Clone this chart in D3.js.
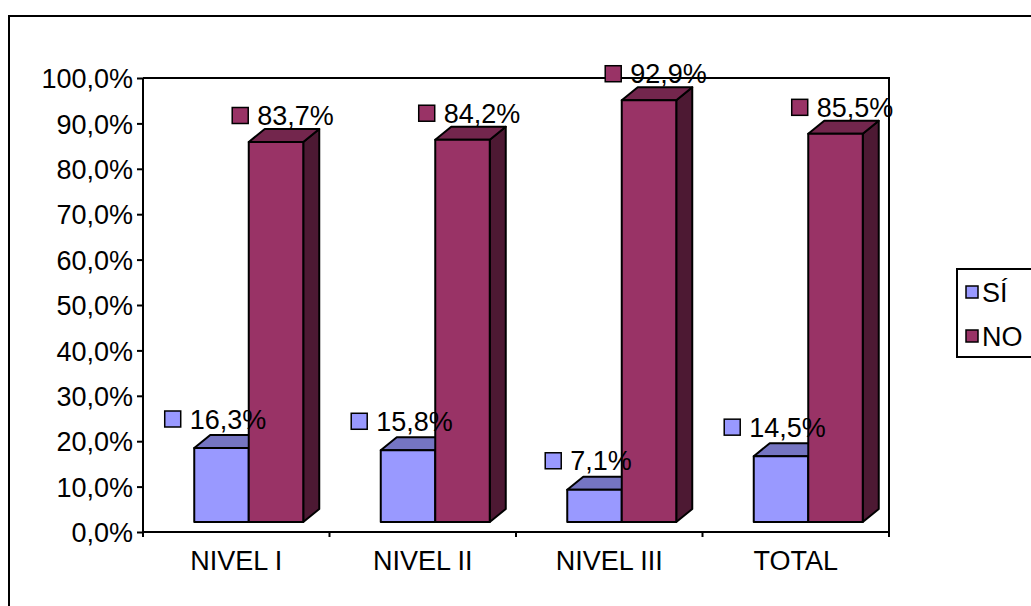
<!DOCTYPE html>
<html>
<head>
	<meta charset="utf-8">
	<title>SÍ / NO</title>
	<script src="https://d3js.org/d3.v7.min.js"></script>
	<style>
		body { margin: 0; background: #fff; }
		text { font-family: "Liberation Sans", Arial, sans-serif; fill: #000; }
	</style>
</head>
<body>
	<svg width="1031" height="606"></svg>
	<script>
		// data
		const categories = ["NIVEL I", "NIVEL II", "NIVEL III", "TOTAL"];
		const seriesNames = ["SÍ", "NO"];
		const siValues = [16.3, 15.8, 7.1, 14.5];
		const noValues = [83.7, 84.2, 92.9, 85.5];
		const yTicks = [0, 10, 20, 30, 40, 50, 60, 70, 80, 90, 100];

		const colors = {
			"SÍ": { front: "#9999ff", top: "#7575c2", side: "#4d4d80" },
			"NO": { front: "#993366", top: "#73264d", side: "#4d1933" }
		};

		const fontSize = 27;
		const fmt = v => v.toFixed(1).replace(".", ",") + "%";

		const svg = d3.select("svg");

		// outer chart border (runs off the picture on the right and bottom)
		svg.append("rect")
			.attr("x", 9).attr("y", 16)
			.attr("width", 1100).attr("height", 700)
			.attr("fill", "#fff").attr("stroke", "#000").attr("stroke-width", 2);

		const plotL = 143, plotR = 889, plotT = 78, plotB = 532;

		const x0 = d3.scaleBand().domain(categories).range([plotL, plotR]);
		const y = d3.scaleLinear().domain([0, 100]).range([plotB, plotT]);

		// 3d look
		const depthX = 16, depthY = -13, lift = 10;
		const barW = 54.5, shift = 12.5;
		const x1 = d3.scaleBand().domain(seriesNames).range([0, barW * 2]);

		// plot frame: back wall top / right edges
		svg.append("path")
			.attr("d", `M${plotL},${plotT}H${plotR}V${plotB + 5}`)
			.attr("fill", "none").attr("stroke", "#000").attr("stroke-width", 2);

		// y axis
		const yAxis = svg.append("g")
			.attr("transform", `translate(${plotL},0)`)
			.call(d3.axisLeft(y).tickValues(yTicks).tickSize(6).tickPadding(4)
				.tickFormat(d => d.toFixed(1).replace(".", ",") + "%"));
		yAxis.select(".domain").attr("stroke-width", 2).attr("d", `M0,${plotT}V${plotB}`);
		yAxis.selectAll(".tick line").attr("stroke-width", 2);
		yAxis.selectAll("text")
			.style("font-size", fontSize + "px")
			.attr("dy", "0.36em")
			.attr("fill", "#000");

		// x axis with ticks on category boundaries
		const xAxis = svg.append("g")
			.attr("transform", `translate(0,${plotB})`)
			.call(d3.axisBottom(x0).tickSize(0).tickPadding(0));
		xAxis.select(".domain").attr("stroke-width", 2).attr("d", `M${plotL},0H${plotR}`);
		xAxis.selectAll("text")
			.style("font-size", fontSize + "px")
			.attr("y", 38).attr("dy", 0)
			.attr("fill", "#000");
		const bounds = categories.map(c => x0(c)).concat([plotR]);
		xAxis.selectAll(".bound")
			.data(bounds)
			.enter().append("line")
			.attr("x1", d => d).attr("x2", d => d)
			.attr("y1", 0).attr("y2", 5)
			.attr("stroke", "#000").attr("stroke-width", 2);

		// bars
		const rows = [];
		categories.forEach((c, i) => {
			rows.push({ cat: c, s: "SÍ", v: siValues[i] });
			rows.push({ cat: c, s: "NO", v: noValues[i] });
		});

		const base = c => x0(c) + x0.bandwidth() / 2 - barW + shift;
		const bars = svg.append("g");
		rows.forEach(d => {
			const xl = base(d.cat) + x1(d.s);
			const xr = xl + barW;
			const yt = y(d.v) - lift;
			const yb = y(0) - lift;
			const g = bars.append("g")
				.attr("stroke", "#000").attr("stroke-width", 2).attr("stroke-linejoin", "round");
			g.append("path")
				.attr("d", `M${xr},${yt}L${xr + depthX},${yt + depthY}V${yb + depthY}L${xr},${yb}Z`)
				.attr("fill", colors[d.s].side);
			g.append("path")
				.attr("d", `M${xl},${yt}L${xl + depthX},${yt + depthY}H${xr + depthX}L${xr},${yt}Z`)
				.attr("fill", colors[d.s].top);
			g.append("rect")
				.attr("x", xl).attr("y", yt)
				.attr("width", barW).attr("height", yb - yt)
				.attr("fill", colors[d.s].front);
		});

		// data labels with legend key
		const labelOff = { "SÍ": { dx: -6, dy: -29 }, "NO": { dx: 7, dy: -26.5 } };
		const labels = svg.append("g");
		rows.forEach(d => {
			const xl = base(d.cat) + x1(d.s);
			const cx = xl + barW / 2 + labelOff[d.s].dx;
			const cy = y(d.v) - lift + labelOff[d.s].dy;
			const g = labels.append("g");
			const t = g.append("text")
				.style("font-size", fontSize + "px")
				.attr("dy", "0.36em")
				.text(fmt(d.v));
			const tw = t.node().getComputedTextLength();
			const total = 16 + 9 + tw;
			const lx = cx - total / 2;
			g.append("rect")
				.attr("x", lx).attr("y", cy - 8)
				.attr("width", 16).attr("height", 16)
				.attr("fill", colors[d.s].front)
				.attr("stroke", "#000").attr("stroke-width", 1.5);
			t.attr("x", lx + 25).attr("y", cy);
		});

		// legend
		const legend = svg.append("g");
		legend.append("rect")
			.attr("x", 957).attr("y", 269)
			.attr("width", 120).attr("height", 88)
			.attr("fill", "#fff").attr("stroke", "#000").attr("stroke-width", 2);
		seriesNames.forEach((s, i) => {
			const cy = 292 + i * 44;
			legend.append("rect")
				.attr("x", 966).attr("y", cy - 6)
				.attr("width", 12).attr("height", 12)
				.attr("fill", colors[s].front)
				.attr("stroke", "#000").attr("stroke-width", 1.5);
			legend.append("text")
				.attr("x", 982).attr("y", cy)
				.attr("dy", "0.36em")
				.style("font-size", fontSize + "px")
				.text(s);
		});
	</script>
</body>
</html>
